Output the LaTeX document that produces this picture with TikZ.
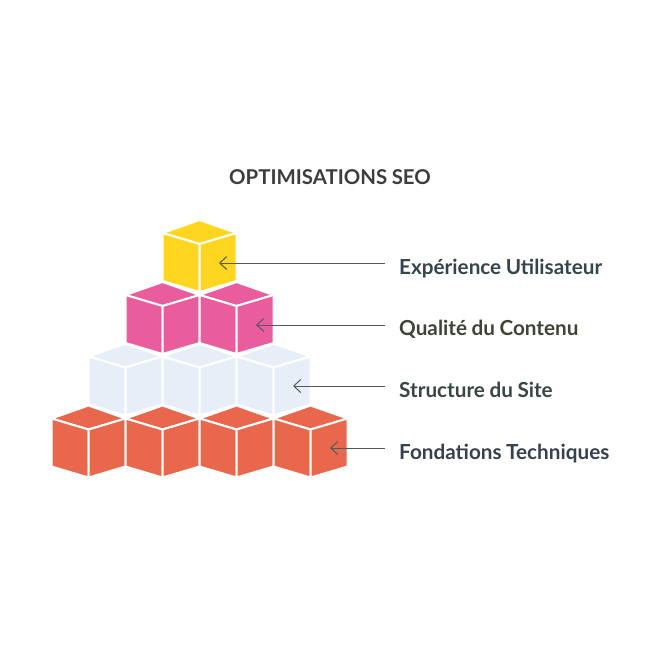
\documentclass[tikz,border=0pt]{standalone}
\usepackage{fontspec}
\setmainfont[WordSpace=0.9]{Lato}
\usetikzlibrary{arrows.meta}
\definecolor{cubeyellow}{HTML}{FFD61F}
\definecolor{cubepink}{HTML}{E95D9F}
\definecolor{cubeblue}{HTML}{E8EEF7}
\definecolor{cubered}{HTML}{E9674D}
\definecolor{arrowgrey}{HTML}{55595C}
\tikzset{>={Straight Barb[width=13pt,length=7pt]}}
\tikzset{
	cube/.pic={
		\path[fill=#1,draw=white,line width=2pt,line join=round] (0, 0) -- (37, 13) -- (0, 24) -- (-37, 13) -- cycle;
		\path[fill=#1,draw=white,line width=2pt,line join=round] (-37, 13) -- (0, 24) -- (0, 72) -- (-37, 61) -- cycle;
		\path[fill=#1,draw=white,line width=2pt,line join=round] (37, 13) -- (0, 24) -- (0, 72) -- (37, 61) -- cycle;
	},
	label/.style={anchor=base west,font=\bfseries\fontsize{20.7}{24}\selectfont,inner sep=0pt}
}
\begin{document}
\begin{tikzpicture}[x=1pt,y=-1pt]
	\useasboundingbox (0, 0) rectangle (660, 646);
	\node[font=\bfseries\fontsize{20.4}{24}\selectfont,text=black!76] (title) at (330, 177.5) {OPTIMISATIONS SEO};
	% cubes, top row first
	\pic at (199.5, 220) {cube=cubeyellow};
	\foreach \x in {162.5, 236.5}
		\pic at (\x, 282) {cube=cubepink};
	\foreach \x in {125.5, 199.5, 273.5}
		\pic at (\x, 343.5) {cube=cubeblue};
	\foreach \x in {88.5, 162.5, 236.5, 310.5}
		\pic at (\x, 405.5) {cube=cubered};
	% labels
	\node[label,text={rgb,255:red,52;green,69;blue,75}] (exp) at (399, 274.5) {Expérience Utilisateur};
	\node[label,text={rgb,255:red,63;green,69;blue,53}] (qual) at (399, 335.5) {Qualité du Contenu};
	\node[label,text={rgb,255:red,58;green,70;blue,70}] (struct) at (399, 397.5) {Structure du Site};
	\node[label,text={rgb,255:red,55;green,64;blue,79}] (fond) at (399, 459) {Fondations Techniques};
	% arrows
	\coordinate (expstart) at (385, 263);
	\coordinate (expend) at (219, 263);
	\coordinate (qualstart) at (385, 325);
	\coordinate (qualend) at (256, 325);
	\coordinate (structstart) at (385, 386);
	\coordinate (structend) at (293, 386);
	\coordinate (fondstart) at (385, 448);
	\coordinate (fondend) at (330, 448);
	\draw[->,draw=arrowgrey,line width=1pt] (expstart) -- (expend);
	\draw[->,draw=arrowgrey,line width=1pt] (qualstart) -- (qualend);
	\draw[->,draw=arrowgrey,line width=1pt] (structstart) -- (structend);
	\draw[->,draw=arrowgrey,line width=1pt] (fondstart) -- (fondend);
\end{tikzpicture}
\end{document}
